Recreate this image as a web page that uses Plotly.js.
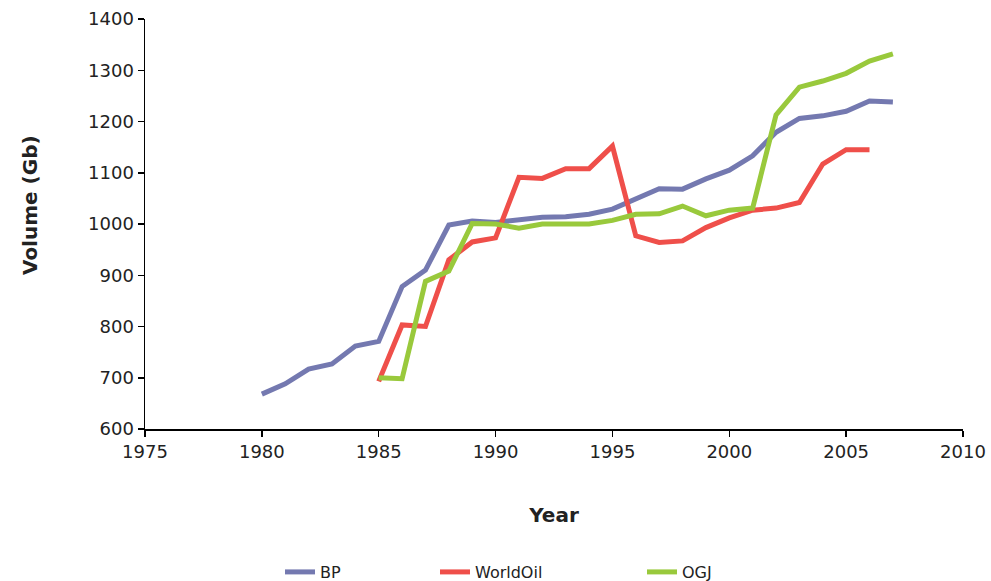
<!DOCTYPE html>
<html><head><meta charset="utf-8">
<script src="https://cdn.plot.ly/plotly-3.0.1.min.js"></script>
<style>body{margin:0;background:#fff}#c{width:991px;height:581px}</style>
</head><body><div id="c"></div>
<script>
const bpYears = [1980,1981,1982,1983,1984,1985,1986,1987,1988,1989,1990,1991,1992,1993,1994,1995,1996,1997,1998,1999,2000,2001,2002,2003,2004,2005,2006,2007];
const bpValues = [668,688,717,727,762,771,878,910,998,1006,1003,1008,1013,1014,1019,1029,1050,1069,1068,1088,1105,1133,1179,1206,1211,1220,1240,1238];
const woYears = [1985,1986,1987,1988,1989,1990,1991,1992,1993,1994,1995,1996,1997,1998,1999,2000,2001,2002,2003,2004,2005,2006];
const woValues = [693,803,800,930,965,973,1091,1089,1108,1108,1152,977,964,967,993,1012,1027,1031,1042,1117,1145,1145];
const ogjYears = [1985,1986,1987,1988,1989,1990,1991,1992,1993,1994,1995,1996,1997,1998,1999,2000,2001,2002,2003,2004,2005,2006,2007];
const ogjValues = [700,698,888,908,1001,1000,992,1000,1000,1000,1007,1019,1020,1035,1016,1027,1031,1213,1267,1279,1294,1318,1332];
const xTitle = 'Year';
const yTitle = 'Volume (Gb)';

const font = "DejaVu Sans, sans-serif";
const traces = [
  {x: bpYears, y: bpValues, name: 'BP', mode: 'lines', line: {color: '#7479b0', width: 5}, legend: 'legend'},
  {x: woYears, y: woValues, name: 'WorldOil', mode: 'lines', line: {color: '#ef4f4a', width: 5}, legend: 'legend2'},
  {x: ogjYears, y: ogjValues, name: 'OGJ', mode: 'lines', line: {color: '#99c93c', width: 5}, legend: 'legend3'}
];
function leg(px) {
  return {xref: 'container', yref: 'container', x: px / 991, xanchor: 'left', y: 1 - 572 / 581, yanchor: 'middle',
          font: {size: 16, color: '#222', family: font}, bgcolor: 'rgba(0,0,0,0)'};
}
const layout = {
  width: 991, height: 581,
  margin: {l: 145, r: 28, t: 19, b: 152, autoexpand: false},
  paper_bgcolor: '#fff', plot_bgcolor: '#fff',
  font: {family: font, size: 18, color: '#222'},
  showlegend: true,
  legend: leg(280), legend2: leg(435), legend3: leg(642),
  xaxis: {
    range: [1975, 2010], tickmode: 'linear', tick0: 1975, dtick: 5,
    showgrid: false, zeroline: false, showline: true, linecolor: '#000', linewidth: 1.5,
    ticks: 'outside', ticklen: 6, tickcolor: '#000', tickwidth: 1.5, automargin: false,
    tickfont: {size: 18, color: '#222'},
    title: {text: '<b>' + xTitle + '</b>', font: {size: 20, color: '#222'}, standoff: 47}
  },
  yaxis: {
    range: [600, 1400], tickmode: 'linear', tick0: 600, dtick: 100,
    showgrid: false, zeroline: false, showline: true, linecolor: '#000', linewidth: 1.5,
    ticks: 'outside', ticklen: 6, tickcolor: '#000', tickwidth: 1.5, automargin: false,
    tickfont: {size: 18, color: '#222'}
  },
  annotations: [{
    text: '<b>' + yTitle + '</b>', textangle: -90, showarrow: false,
    xref: 'paper', yref: 'paper', x: (30 - 145) / 818, y: (429 - 205) / 410,
    xanchor: 'center', yanchor: 'middle', font: {size: 20, color: '#222', family: font}
  }]
};
Plotly.newPlot('c', traces, layout, {displayModeBar: false, staticPlot: true});
</script></body></html>
